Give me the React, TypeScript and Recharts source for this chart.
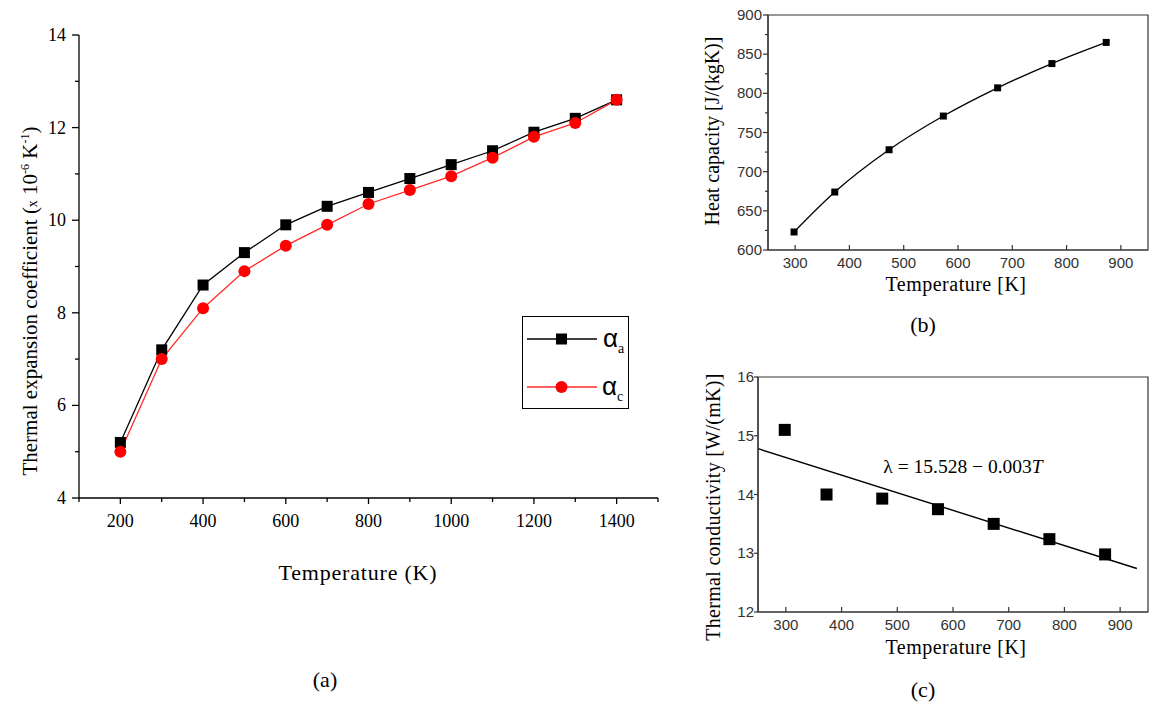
import React from 'react';
import { LineChart, Line, XAxis, YAxis, ComposedChart, Scatter, ReferenceArea } from 'recharts';

// ---------- Panel (a): thermal expansion coefficient ----------
const tempA = [200, 300, 400, 500, 600, 700, 800, 900, 1000, 1100, 1200, 1300, 1400];
const alphaA = [5.2, 7.2, 8.6, 9.3, 9.9, 10.3, 10.6, 10.9, 11.2, 11.5, 11.9, 12.2, 12.6];
const alphaC = [5.0, 7.0, 8.1, 8.9, 9.45, 9.9, 10.35, 10.65, 10.95, 11.35, 11.8, 12.1, 12.6];
const tempTicksA = [100, 200, 300, 400, 500, 600, 700, 800, 900, 1000, 1100, 1200, 1300, 1400, 1500];
const tempLabelsA = [200, 400, 600, 800, 1000, 1200, 1400];
const alphaTicks = [4, 5, 6, 7, 8, 9, 10, 11, 12, 13, 14];
const alphaLabels = [4, 6, 8, 10, 12, 14];

// ---------- Panel (b): heat capacity ----------
const tempB = [298, 373, 473, 573, 673, 773, 873];
const heatCap = [623, 674, 728, 771, 807, 838, 865];
const tempTicksBC = [300, 400, 500, 600, 700, 800, 900];
const heatTicks = [600, 625, 650, 675, 700, 725, 750, 775, 800, 825, 850, 875, 900];
const heatLabels = [600, 650, 700, 750, 800, 850, 900];

// ---------- Panel (c): thermal conductivity ----------
const tempC = [298, 373, 473, 573, 673, 773, 873];
const conductivity = [15.1, 14.0, 13.93, 13.75, 13.5, 13.24, 12.98];
const fitT = [250, 930];
const fitK = [14.78, 12.74];
const condTicks = [12, 13, 14, 15, 16];

const dataA = tempA.map((t, i) => ({ T: t, a: alphaA[i], c: alphaC[i] }));
const dataB = tempB.map((t, i) => ({ T: t, cp: heatCap[i] }));
const dataC = tempC.map((t, i) => ({ T: t, k: conductivity[i] }));
const dataFit = fitT.map((t, i) => ({ T: t, k: fitK[i] }));

const SERIF = '"Liberation Serif", "DejaVu Serif", serif';
const SANS = '"Liberation Sans", Arial, sans-serif';

// ---- tick renderers ----
const XTickA = (props: any) => {
  const { x, y, payload } = props;
  const v = payload.value;
  const major = tempLabelsA.includes(v);
  return (
    <g>
      <line x1={x} x2={x} y1={y} y2={y + (major ? 6 : 4)} stroke="#000" strokeWidth={1.3} />
      {major && (
        <text x={x} y={y + 29} textAnchor="middle" fontFamily={SERIF} fontSize={18} fill="#000">
          {v}
        </text>
      )}
    </g>
  );
};

const YTickA = (props: any) => {
  const { x, y, payload } = props;
  const v = payload.value;
  const major = alphaLabels.includes(v);
  return (
    <g>
      <line x1={x} x2={x - (major ? 7 : 4)} y1={y} y2={y} stroke="#000" strokeWidth={1.3} />
      {major && (
        <text x={x - 13} y={y + 6} textAnchor="end" fontFamily={SERIF} fontSize={18} fill="#000">
          {v}
        </text>
      )}
    </g>
  );
};

const XTickB = (props: any) => {
  const { x, y, payload } = props;
  return (
    <g>
      <line x1={x} x2={x} y1={y} y2={y - 5} stroke="#333" strokeWidth={1.2} />
      <text x={x} y={y + 18} textAnchor="middle" fontFamily={SANS} fontSize={15} fill="#333">
        {payload.value}
      </text>
    </g>
  );
};

const YTickB = (props: any) => {
  const { x, y, payload } = props;
  const v = payload.value;
  const major = heatLabels.includes(v);
  return (
    <g>
      <line x1={x} x2={x - (major ? 5 : 3)} y1={y} y2={y} stroke="#333" strokeWidth={1.2} />
      {major && (
        <text x={x - 6} y={y + 5} textAnchor="end" fontFamily={SANS} fontSize={15} fill="#333">
          {v}
        </text>
      )}
    </g>
  );
};

const XTickC = (props: any) => {
  const { x, y, payload } = props;
  return (
    <g>
      <line x1={x} x2={x} y1={y} y2={y - 5} stroke="#333" strokeWidth={1.2} />
      <text x={x} y={y + 18} textAnchor="middle" fontFamily={SANS} fontSize={15} fill="#333">
        {payload.value}
      </text>
    </g>
  );
};

const YTickC = (props: any) => {
  const { x, y, payload } = props;
  return (
    <g>
      <line x1={x} x2={x - 4} y1={y} y2={y} stroke="#333" strokeWidth={1.2} />
      <text x={x - 4} y={y + 5} textAnchor="end" fontFamily={SANS} fontSize={15} fill="#333">
        {payload.value}
      </text>
    </g>
  );
};

// ---- markers ----
const squareDot = (size: number) => (props: any) => {
  const { cx, cy, index } = props;
  if (cx == null || cy == null) return <g key={`s-${index}`} />;
  return <rect key={`s-${index}`} x={cx - size / 2} y={cy - size / 2} width={size} height={size} fill="#000" />;
};
const circleDot = (props: any) => {
  const { cx, cy, index } = props;
  if (cx == null || cy == null) return <g key={`c-${index}`} />;
  return <circle key={`c-${index}`} cx={cx} cy={cy} r={6} fill="#ff0000" />;
};
const scatterSquare = (props: any) => {
  const { cx, cy } = props;
  return <rect x={cx - 6} y={cy - 6} width={12} height={12} fill="#000" />;
};

const abs = (left: number, top: number, extra: React.CSSProperties = {}): React.CSSProperties => ({
  position: 'absolute',
  left,
  top,
  transform: 'translate(-50%, -50%)',
  whiteSpace: 'nowrap',
  lineHeight: 1,
  fontFamily: SERIF,
  color: '#000',
  ...extra,
});

const rot = (left: number, top: number, fontSize: number, extra: React.CSSProperties = {}): React.CSSProperties => ({
  ...abs(left, top, { fontSize, ...extra }),
  transform: 'translate(-50%, -50%) rotate(-90deg)',
});

export default function App() {
  return (
    <div style={{ position: 'absolute', left: 0, top: 0, width: 1152, height: 704, background: '#fff', overflow: 'hidden' }}>
      {/* Panel (a) */}
      <div style={{ position: 'absolute', left: 0, top: 0 }}>
        <LineChart width={680} height={704} data={dataA} margin={{ top: 35, right: 22, left: 0, bottom: 176 }}>
          <XAxis
            dataKey="T"
            type="number"
            domain={[100, 1500]}
            ticks={tempTicksA}
            interval={0}
            tickSize={0}
            tickMargin={0}
            tickLine={false}
            tick={XTickA}
            height={30}
            axisLine={{ stroke: '#000', strokeWidth: 1.3 }}
          />
          <YAxis
            type="number"
            domain={[4, 14]}
            ticks={alphaTicks}
            interval={0}
            tickSize={0}
            tickMargin={0}
            tickLine={false}
            tick={YTickA}
            width={79}
            axisLine={{ stroke: '#000', strokeWidth: 1.3 }}
          />
          <Line dataKey="a" stroke="#000" strokeWidth={1.3} dot={squareDot(11)} isAnimationActive={false} />
          <Line dataKey="c" stroke="#ff2a2a" strokeWidth={1.3} dot={circleDot} isAnimationActive={false} />
        </LineChart>
      </div>

      {/* Legend (a) */}
      <div style={{ position: 'absolute', left: 522, top: 316, width: 105, height: 91, border: '1px solid #000', background: '#fff' }}>
        <svg width={105} height={91} style={{ position: 'absolute', left: 0, top: 0 }}>
          <line x1={4} x2={74} y1={22} y2={22} stroke="#000" strokeWidth={1.3} />
          <rect x={33} y={16.5} width={11} height={11} fill="#000" />
          <line x1={4} x2={74} y1={70} y2={70} stroke="#ff2a2a" strokeWidth={1.3} />
          <circle cx={38.5} cy={70} r={6} fill="#ff0000" />
        </svg>
        <div style={{ position: 'absolute', left: 80, top: 8, fontFamily: SANS, fontSize: 26, lineHeight: 1 }}>
          α<sub style={{ fontFamily: SERIF, fontSize: 14, verticalAlign: '-6px' }}>a</sub>
        </div>
        <div style={{ position: 'absolute', left: 79, top: 56, fontFamily: SANS, fontSize: 26, lineHeight: 1 }}>
          α<sub style={{ fontFamily: SERIF, fontSize: 14, verticalAlign: '-6px' }}>c</sub>
        </div>
      </div>

      <div style={rot(30, 301, 21)}>
        Thermal expansion coefficient (<span style={{ fontSize: 14 }}>x</span> 10<sup style={{ fontSize: 12 }}>-6</sup> K<sup style={{ fontSize: 12 }}>-1</sup>)
      </div>
      <div style={abs(358, 573, { fontSize: 22, letterSpacing: 0.8 })}>Temperature (K)</div>
      <div style={abs(325, 680, { fontSize: 22 })}>(a)</div>

      {/* Panel (b) */}
      <div style={{ position: 'absolute', left: 690, top: 0 }}>
        <LineChart width={462} height={300} data={dataB} margin={{ top: 15, right: 4, left: 0, bottom: 20 }}>
          <XAxis
            dataKey="T"
            type="number"
            domain={[250, 950]}
            ticks={tempTicksBC}
            interval={0}
            tickSize={0}
            tickMargin={0}
            tickLine={false}
            tick={XTickB}
            height={30}
            axisLine={{ stroke: '#333', strokeWidth: 1.2 }}
          />
          <YAxis
            type="number"
            domain={[600, 900]}
            ticks={heatTicks}
            interval={0}
            tickSize={0}
            tickMargin={0}
            tickLine={false}
            tick={YTickB}
            width={78}
            axisLine={{ stroke: '#333', strokeWidth: 1.2 }}
          />
          <ReferenceArea x1={250} x2={950} y1={600} y2={900} fill="none" stroke="#333" strokeWidth={1.2} />
          <Line dataKey="cp" type="monotone" stroke="#000" strokeWidth={1.3} dot={squareDot(7)} isAnimationActive={false} />
        </LineChart>
      </div>
      <div style={rot(712, 131, 20)}>Heat capacity [J/(kgK)]</div>
      <div style={abs(956, 284, { fontSize: 20, letterSpacing: 0.5 })}>Temperature [K]</div>
      <div style={abs(923, 325, { fontSize: 22 })}>(b)</div>

      {/* Panel (c) */}
      <div style={{ position: 'absolute', left: 690, top: 360 }}>
        <ComposedChart width={462} height={300} margin={{ top: 17, right: 4, left: 0, bottom: 18 }}>
          <XAxis
            dataKey="T"
            type="number"
            domain={[250, 950]}
            ticks={tempTicksBC}
            interval={0}
            tickSize={0}
            tickMargin={0}
            tickLine={false}
            tick={XTickC}
            height={30}
            axisLine={{ stroke: '#333', strokeWidth: 1.2 }}
          />
          <YAxis
            type="number"
            domain={[12, 16]}
            ticks={condTicks}
            interval={0}
            tickSize={0}
            tickMargin={0}
            tickLine={false}
            tick={YTickC}
            width={68}
            axisLine={{ stroke: '#333', strokeWidth: 1.2 }}
          />
          <ReferenceArea x1={250} x2={950} y1={12} y2={16} fill="none" stroke="#333" strokeWidth={1.2} />
          <Line data={dataFit} dataKey="k" type="linear" stroke="#000" strokeWidth={1.4} dot={false} isAnimationActive={false} />
          <Scatter data={dataC} dataKey="k" fill="#000" shape={scatterSquare} isAnimationActive={false} />
        </ComposedChart>
      </div>
      <div style={rot(713, 507, 20, { letterSpacing: 0.3 })}>Thermal conductivity [W/(mK)]</div>
      <div style={abs(963, 467, { fontSize: 19.5 })}>
        λ = 15.528 − 0.003<span style={{ fontStyle: 'italic' }}>T</span>
      </div>
      <div style={abs(956, 647, { fontSize: 20, letterSpacing: 0.5 })}>Temperature [K]</div>
      <div style={abs(923, 690, { fontSize: 22 })}>(c)</div>
    </div>
  );
}
